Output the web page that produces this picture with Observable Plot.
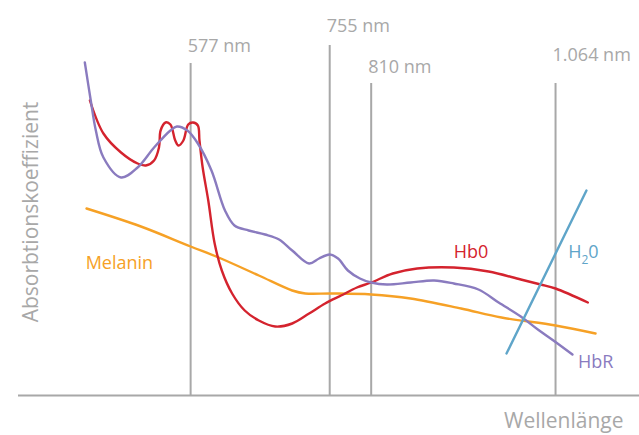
<!DOCTYPE html>
<html>
<head>
<meta charset="utf-8">
<script src="https://cdn.jsdelivr.net/npm/d3@7"></script>
<script src="https://cdn.jsdelivr.net/npm/@observablehq/plot@0.6"></script>
<style>
  html, body { margin: 0; padding: 0; background: #fff; }
  svg { display: block; }
</style>
</head>
<body>
<div id="chart"></div>
<script>
// Marker wavelengths (nm) and their labels
const markerNm = [577, 755, 810, 1064];
const markerLabel = ["577 nm", "755 nm", "810 nm", "1.064 nm"];
const markerTop = [332, 350, 312, 312];      // line height (relative absorption units)
const markerLabelAt = [344, 364, 323, 335];  // label baseline (relative units)

// HbR (deoxygenated haemoglobin)
const hbrNm  = [449, 456, 462, 471, 492, 512, 532, 552, 560, 573, 586, 603, 620, 632, 650, 671, 689, 706, 728, 741, 755, 766, 779, 795, 810, 831, 863, 895, 922, 956, 984, 1015, 1039, 1061, 1088];
const hbrVal = [333, 295, 265, 238, 218, 228, 248, 265, 269, 265, 252, 225, 185, 170, 165, 161, 156, 145, 132, 137, 141, 137, 125, 117, 113, 111, 113, 115, 112, 106, 93, 79, 66, 55, 41];

// HbO (oxygenated haemoglobin)
const hboNm  = [455, 471, 492, 512, 522, 532, 538, 540, 546, 552, 558, 562, 568, 574, 580, 586, 588, 592, 599, 607, 616, 629, 645, 663, 684, 706, 728, 749, 770, 791, 810, 839, 872, 922, 970, 1015, 1043, 1064, 1110];
const hboVal = [295, 262, 243, 232, 230, 235, 248, 265, 273, 271, 255, 250, 255, 271, 273, 270, 255, 228, 195, 152, 125, 102, 85, 75, 69, 72, 82, 92, 100, 108, 113, 122, 127, 128, 124, 116, 111, 107, 93];

// Melanin
const melNm  = [451, 516, 577, 612, 663, 706, 723, 758, 810, 863, 932, 988, 1064, 1121];
const melVal = [187, 169, 149, 138, 120, 105, 102, 102, 101, 97, 87, 78, 70, 62];

// Water
const h2oNm  = [995, 1108];
const h2oVal = [42, 205];

// Series labels
const seriesLabel = ["Melanin", "Hb0", "H20", "HbR"];
const seriesLabelNm = [450, 922, 1082, 1096];
const seriesLabelVal = [127, 138, 138, 28];
const seriesColor = ["#f6a126", "#d4232e", "#5fa5c9", "#8a7bbf"];

const gray = "#a8a8a8";
const series = (nm, val) => nm.map((x, i) => ({x, y: val[i]}));
const markers = markerNm.map((x, i) => ({x, top: markerTop[i], at: markerLabelAt[i], label: markerLabel[i]}));
const labels = seriesLabel.map((t, i) => ({t, x: seriesLabelNm[i], y: seriesLabelVal[i], c: seriesColor[i]}));

const font = "'Open Sans', 'Noto Sans', sans-serif";

const plot = Plot.plot({
  width: 639,
  height: 435,
  marginLeft: 18,
  marginRight: 0,
  marginTop: 0,
  marginBottom: 0,
  style: {fontFamily: font, background: "#fff"},
  x: {type: "pow", exponent: 0.784, domain: [372.5, 1184.4], range: [18, 639], axis: null},
  y: {domain: [0, 340], range: [395, 55], axis: null},
  marks: [
    Plot.ruleX(markers, {x: "x", y1: 0, y2: "top", stroke: gray, strokeWidth: 2}),
    Plot.ruleY([0], {stroke: gray, strokeWidth: 2}),
    Plot.text(markers, {x: "x", y: "at", text: "label", textAnchor: "start", lineAnchor: "bottom", dx: -3, fill: gray, fontSize: 18}),
    Plot.line(series(melNm, melVal), {x: "x", y: "y", stroke: seriesColor[0], strokeWidth: 2.4, curve: "catmull-rom"}),
    Plot.line(series(hboNm, hboVal), {x: "x", y: "y", stroke: seriesColor[1], strokeWidth: 2.4, curve: "catmull-rom"}),
    Plot.line(series(hbrNm, hbrVal), {x: "x", y: "y", stroke: seriesColor[3], strokeWidth: 2.4, curve: "catmull-rom"}),
    Plot.line(series(h2oNm, h2oVal), {x: "x", y: "y", stroke: seriesColor[2], strokeWidth: 2.4}),
    Plot.text(labels, {x: "x", y: "y", text: "t", fill: "c", textAnchor: "start", lineAnchor: "bottom", fontSize: 18}),
    Plot.text(["Wellenlänge"], {frameAnchor: "bottom-right", dx: -16, dy: -8, textAnchor: "end", lineAnchor: "bottom", fill: gray, fontSize: 21}),
    Plot.text(["Absorbtionskoeffizient"], {frameAnchor: "left", rotate: -90, dx: 13, dy: -6, textAnchor: "middle", lineAnchor: "middle", fill: gray, fontSize: 21})
  ]
});

// Subscript the 2 in H20
d3.select(plot).selectAll("text").each(function() {
  if (this.textContent === "H20") {
    const t = d3.select(this);
    t.text("");
    t.append("tspan").text("H");
    t.append("tspan").attr("font-size", 12).attr("dy", 6).text("2");
    t.append("tspan").attr("dy", -6).text("0");
  }
});

document.getElementById("chart").appendChild(plot);
</script>
</body>
</html>
